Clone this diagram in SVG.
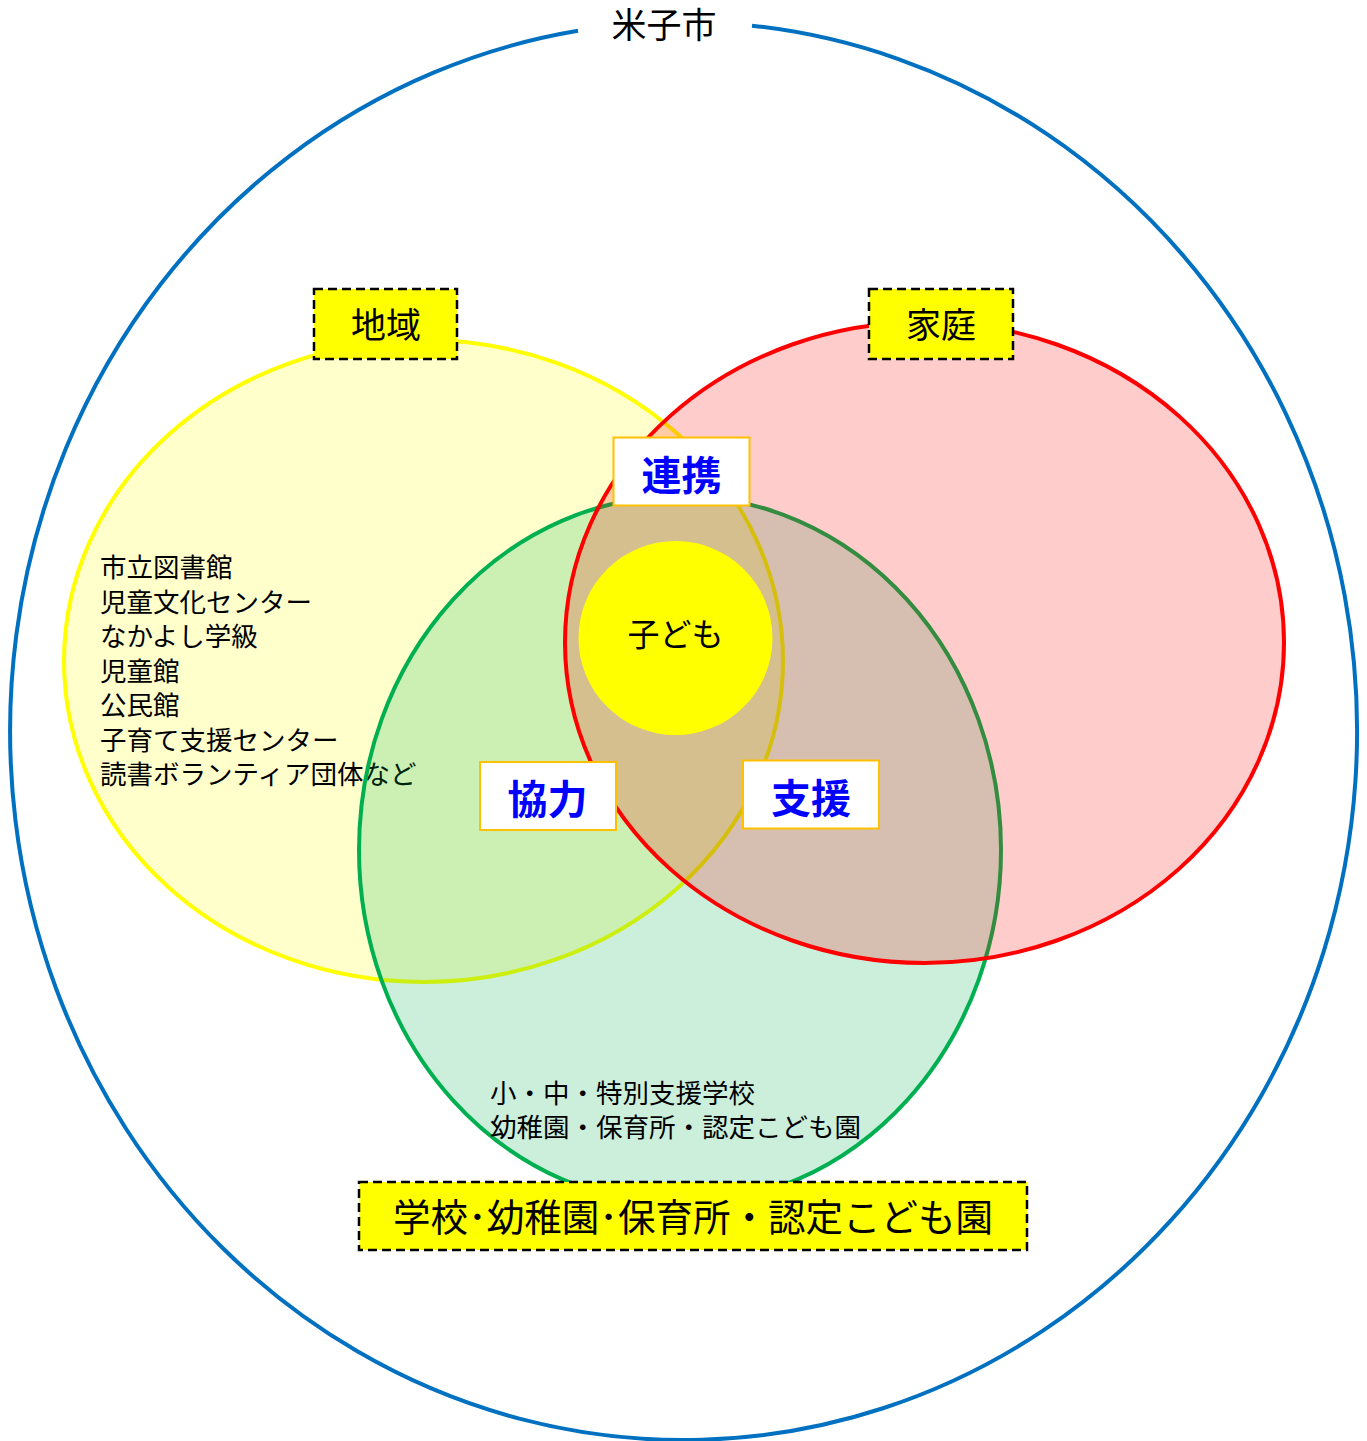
<svg xmlns="http://www.w3.org/2000/svg" width="1367" height="1441" viewBox="0 0 1367 1441">
<style>
.area{fill-opacity:0.2;stroke-width:4}
.tag{fill:#FFFF00;stroke:#000;stroke-width:2.5;stroke-dasharray:9 5}
.tagt{font-family:"Liberation Serif","Noto Sans CJK JP",serif;font-size:35px;fill:#000;text-anchor:middle}
.rel{fill:#FFF;stroke:#FFC000;stroke-width:2}
.relt{font-family:"Liberation Sans","Noto Sans CJK JP",sans-serif;font-size:40px;font-weight:bold;fill:#0000FF;text-anchor:middle}
.list{font-family:"Liberation Sans","Noto Sans CJK JP",sans-serif;font-size:26.5px;fill:#000}
</style>
<rect width="1367" height="1441" fill="#FFF"/>
<g id="city">
<path d="M752 25.7 A673.5 709 0 1 1 578 30.8" fill="none" stroke="#0070C0" stroke-width="4"/>
<text x="664" y="38" class="tagt">米子市</text>
</g>
<g id="chiiki">
<ellipse class="area" cx="423.5" cy="661" rx="359.5" ry="321" fill="#FFFF00" stroke="#FFFF00"/>
<text class="list" x="100" y="577">市立図書館</text>
<text class="list" x="100" y="611.5">児童文化センター</text>
<text class="list" x="100" y="646">なかよし学級</text>
<text class="list" x="100" y="680.5">児童館</text>
<text class="list" x="100" y="715">公民館</text>
<text class="list" x="100" y="749.5">子育て支援センター</text>
<text class="list" x="100" y="784">読書ボランティア団体など</text>
</g>
<g id="gakko">
<ellipse class="area" cx="680" cy="850" rx="321" ry="354" fill="#00B050" stroke="#00B050"/>
<text class="list" x="490" y="1103">小・中・特別支援学校</text>
<text class="list" x="490" y="1137">幼稚園・保育所・認定こども園</text>
</g>
<g id="katei">
<ellipse class="area" cx="924.5" cy="642.5" rx="359.5" ry="320.5" fill="#FF0000" stroke="#FF0000"/>
</g>
<g id="kodomo">
<ellipse cx="675.5" cy="638" rx="97" ry="97" fill="#FFFF00"/>
<text x="675.5" y="646" class="tagt" style="font-size:32px">子ども</text>
</g>
<g id="label-chiiki">
<rect class="tag" x="314" y="289" width="143" height="70"/>
<text class="tagt" x="386" y="338">地域</text>
</g>
<g id="label-katei">
<rect class="tag" x="869" y="289" width="144" height="70"/>
<text class="tagt" x="941" y="338">家庭</text>
</g>
<g id="label-gakko">
<rect class="tag" x="359" y="1182" width="668" height="68"/>
<text class="tagt" x="693" y="1231" style="font-size:37.5px">学校･幼稚園･保育所・認定こども園</text>
</g>
<g id="renkei">
<rect class="rel" x="613.5" y="437.5" width="136" height="68"/>
<text class="relt" x="681.5" y="490">連携</text>
</g>
<g id="kyoryoku">
<rect class="rel" x="480" y="762" width="136" height="68"/>
<text class="relt" x="547.5" y="814">協力</text>
</g>
<g id="shien">
<rect class="rel" x="743" y="760.5" width="136" height="68"/>
<text class="relt" x="811" y="812.5">支援</text>
</g>
</svg>
